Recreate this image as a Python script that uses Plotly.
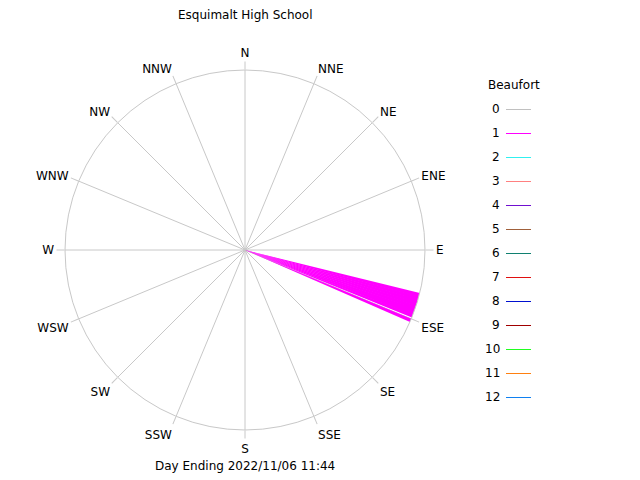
import plotly.graph_objects as go

# Data
wind_dirs = [104.5, 105.5, 106.5, 107.5, 108.5, 109.5, 110.5, 111.5, 113.0]
wind_widths = [1.3, 1.3, 1.3, 1.3, 1.3, 1.3, 1.3, 1.1, 1.1]
wind_r = [1, 1, 1, 1, 1, 1, 1, 1, 1]
wind_beaufort = 1

compass_angles = [i * 22.5 for i in range(16)]
compass_labels = ["N", "NNE", "NE", "ENE", "E", "ESE", "SE", "SSE",
                  "S", "SSW", "SW", "WSW", "W", "WNW", "NW", "NNW"]

beaufort_levels = [str(i) for i in range(13)]
beaufort_colors = ["#c0c0c0", "#ff00ff", "#30f0f0", "#ff8080", "#7010d0",
                   "#a0603a", "#108070", "#e01010", "#0010d0", "#a00000",
                   "#20ff20", "#ff8010", "#1080f0"]

font = "DejaVu Sans"

fig = go.Figure()
fig.add_trace(go.Barpolar(
    theta=wind_dirs, r=wind_r, width=wind_widths,
    marker=dict(color=beaufort_colors[wind_beaufort], line=dict(width=0)),
    showlegend=False, hoverinfo="skip",
))

W, H = 640, 480
cx, cy, R = 245, 250, 180
fig.update_layout(
    width=W, height=H,
    margin=dict(l=0, r=0, t=0, b=0),
    paper_bgcolor="white", plot_bgcolor="white",
    showlegend=False,
    font=dict(family=font, size=12, color="black"),
    polar=dict(
        domain=dict(x=[(cx - R) / W, (cx + R) / W],
                    y=[(H - cy - R) / H, (H - cy + R) / H]),
        bgcolor="white",
        angularaxis=dict(
            rotation=90, direction="clockwise",
            tickmode="array", tickvals=compass_angles, ticktext=compass_labels,
            showgrid=True, gridcolor="#c8c8c8", gridwidth=1,
            showline=True, linecolor="#c8c8c8", linewidth=1,
            ticks="outside", ticklen=8, tickcolor="#c8c8c8",
            tickfont=dict(family=font, size=12, color="black"),
        ),
        radialaxis=dict(range=[0, 1], visible=False, showgrid=False),
    ),
)

# Title and footer
fig.add_annotation(x=245 / W, y=1 - 15 / H, xref="paper", yref="paper",
                   text="Esquimalt High School", showarrow=False,
                   font=dict(family=font, size=12), xanchor="center", yanchor="middle")
fig.add_annotation(x=245 / W, y=1 - 466 / H, xref="paper", yref="paper",
                   text="Day Ending 2022/11/06 11:44", showarrow=False,
                   font=dict(family=font, size=12), xanchor="center", yanchor="middle")

# Beaufort legend
fig.add_annotation(x=486 / W, y=1 - 85 / H, xref="paper", yref="paper",
                   text="Beaufort", showarrow=False, font=dict(family=font, size=12),
                   xanchor="left", yanchor="middle")
for i, (lab, col) in enumerate(zip(beaufort_levels, beaufort_colors)):
    yy = 109 + 24 * i
    fig.add_annotation(x=502 / W, y=1 - yy / H, xref="paper", yref="paper",
                       text=lab, showarrow=False, font=dict(family=font, size=12),
                       xanchor="right", yanchor="middle")
    fig.add_shape(type="line", xref="paper", yref="paper",
                  x0=506 / W, x1=531 / W, y0=1 - (yy + 0.5) / H, y1=1 - (yy + 0.5) / H,
                  line=dict(color=col, width=1))

fig.write_html("out.html")
